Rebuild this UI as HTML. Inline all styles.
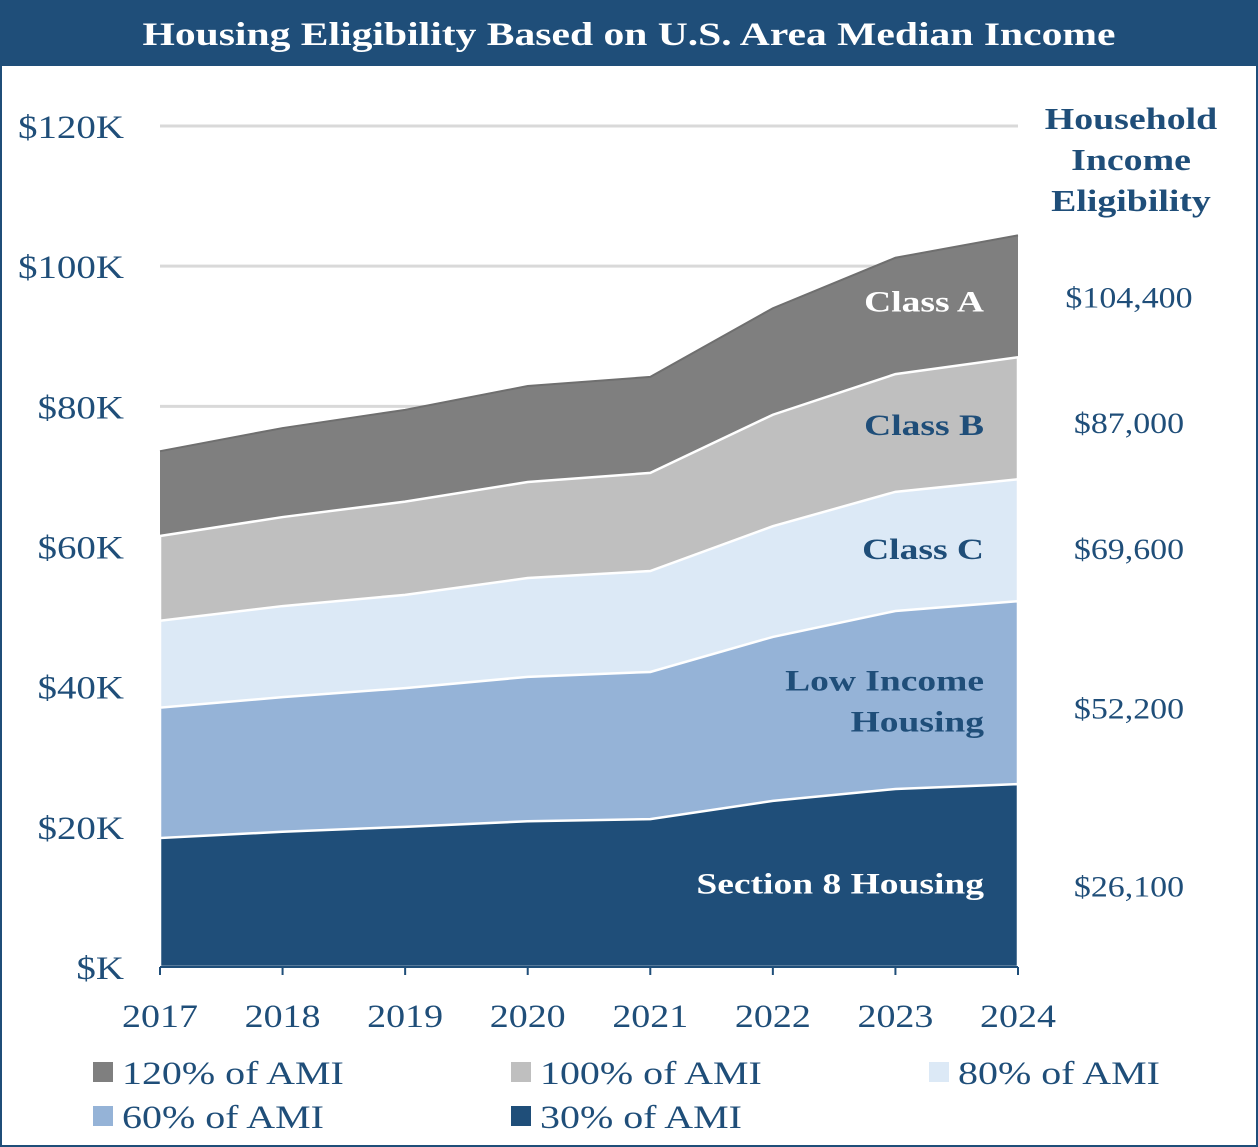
<!DOCTYPE html>
<html><head><meta charset="utf-8"><style>
html,body{margin:0;padding:0;background:#fff}
svg{display:block}
text{font-family:"Liberation Serif",serif}
</style></head><body>
<svg id="chart" width="1258" height="1147" viewBox="0 0 1258 1147" xmlns="http://www.w3.org/2000/svg">
<rect x="1" y="1" width="1256" height="1145" fill="#fff" stroke="#1f4e79" stroke-width="2"/>
<rect x="0" y="0" width="1258" height="66" fill="#1f4e79"/>
<text id="title" class="st" data-k="1.26" x="629" y="45" text-anchor="middle" font-size="33" font-weight="bold" fill="#fff">Housing Eligibility Based on U.S. Area Median Income</text>
<g id="grid"></g>
<g id="areas"></g>
<g id="axes"></g>
<g id="labels"></g>
<text font-size="31" font-weight="bold" fill="#1f4e79" text-anchor="middle"><tspan class="st" data-k="1.22" x="1131" y="129">Household</tspan><tspan class="st" data-k="1.22" x="1131" y="170">Income</tspan><tspan class="st" data-k="1.22" x="1131" y="211">Eligibility</tspan></text>
<g id="legend"></g>
</svg>
<script>
const years = ["2017","2018","2019","2020","2021","2022","2023","2024"];
const ami120 = [73.6,76.9,79.5,82.9,84.2,94.0,101.2,104.4];
const ami100 = [61.5,64.2,66.4,69.2,70.5,78.8,84.6,87.0];
const ami80 = [49.4,51.5,53.1,55.5,56.5,62.9,67.8,69.6];
const ami60 = [37.0,38.5,39.8,41.4,42.1,47.1,50.8,52.2];
const ami30 = [18.4,19.3,20.0,20.8,21.1,23.7,25.4,26.1];
const yTicks = [0,20,40,60,80,100,120];
const eligibility = ["$104,400","$87,000","$69,600","$52,200","$26,100"];
const classLabels = ["Class A","Class B","Class C","Low Income|Housing","Section 8 Housing"];
const legendNames = ["120% of AMI","100% of AMI","80% of AMI","60% of AMI","30% of AMI"];

const NS="http://www.w3.org/2000/svg";
const x0=160,x1=1018,yBase=967,yTop=126;
const xs=i=>x0+(x1-x0)*i/(years.length-1);
const ys=v=>yBase-(yBase-yTop)*v/120;
function mk(tag,attrs,parent){const e=document.createElementNS(NS,tag);for(const k in attrs)e.setAttribute(k,attrs[k]);parent.appendChild(e);return e;}

const grid=document.getElementById('grid');
yTicks.forEach(t=>{
  if(t>0){const l=mk('line',{x1:x0,x2:1018,y1:ys(t),y2:ys(t),stroke:'#d9d9d9','stroke-width':3},grid);
  
  }
  const tx=mk('text',{x:124,y:ys(t)+12,'text-anchor':'end','font-size':33,fill:'#1f4e79',class:'st','data-k':1.18},grid);
  tx.textContent='$'+(t===0?'':t)+'K';
  
  
});

const series=[ami120,ami100,ami80,ami60,ami30];
const colors=['#7f7f7f','#bfbfbf','#dce9f6','#95b3d7','#1f4e79'];
const names=['area-120-ami','area-100-ami','area-80-ami','area-60-ami','area-30-ami'];
const areas=document.getElementById('areas');
series.forEach((s,k)=>{
  let d='M'+x0+','+yBase;
  s.forEach((v,i)=>{d+=' L'+xs(i)+','+ys(v);});
  d+=' L'+x1+','+yBase+' Z';
  const p=mk('path',{d:d,fill:colors[k],stroke:k===0?'none':'#fff','stroke-width':2.5},areas);
  
  
});
let dTop='';ami120.forEach((v,i)=>{dTop+=(i?' L':'M')+xs(i)+','+ys(v);});
const te=mk('path',{d:dTop,fill:'none',stroke:'#6f6f6f','stroke-width':2},areas);



const axes=document.getElementById('axes');
const xa=mk('line',{x1:x0,x2:x1,y1:yBase,y2:yBase,stroke:'#1f4e79','stroke-width':2},axes);


years.forEach((y,i)=>{
  const t=mk('line',{x1:xs(i),x2:xs(i),y1:yBase,y2:yBase+8,stroke:'#1f4e79','stroke-width':2},axes);
  
  
  const tx=mk('text',{x:xs(i),y:1027,'text-anchor':'middle','font-size':33,fill:'#1f4e79',class:'st','data-k':1.15},axes);
  tx.textContent=y;
  
  
});

const labels=document.getElementById('labels');
const last=years.length-1;
const bands=[[ami120,ami100],[ami100,ami80],[ami80,ami60],[ami60,ami30],[ami30,[0]]];
const labelColors=['#fff','#1f4e79','#1f4e79','#1f4e79','#fff'];
const labelShift=[5,7,9,8,8];
const eligShift=[1,5,9,16,3];
bands.forEach((b,k)=>{
  const lo=b[1].length>1?b[1][last]:0;
  const mid=(b[0][last]+lo)/2;
  const lines=classLabels[k].split('|');
  const cy=ys(mid)+10-(lines.length-1)*20+labelShift[k];
  lines.forEach((ln,j)=>{
    const tx=mk('text',{x:984,y:cy+j*41,'text-anchor':'end','font-size':30,'font-weight':'bold',fill:labelColors[k],class:'st','data-k':1.25},labels);
    tx.textContent=ln;
    
    
  });
  const ey=(k===4?ys(mid)+18:ys(mid)+10)+eligShift[k];
  const e=mk('text',{x:1129,y:ey,'text-anchor':'middle','font-size':30,fill:'#1f4e79',class:'st','data-k':1.13},labels);
  e.textContent=eligibility[k];
  
  
});

const legend=document.getElementById('legend');
const lpos=[[93,1062],[511,1062],[929,1062],[93,1106],[511,1106]];
legendNames.forEach((n,k)=>{
  const g=mk('g',{},legend);
  
  
  mk('rect',{x:lpos[k][0],y:lpos[k][1],width:20,height:20,fill:colors[k]},g);
  const tx=mk('text',{x:lpos[k][0]+29,y:lpos[k][1]+22,'font-size':33,fill:'#1f4e79',class:'st','data-k':1.21},g);
  tx.textContent=n;
});

document.querySelectorAll('.st').forEach(el=>{
  const w=el.getComputedTextLength();
  const k=parseFloat(el.getAttribute('data-k'));
  if(w>0){el.setAttribute('textLength',(w*k).toFixed(1));el.setAttribute('lengthAdjust','spacingAndGlyphs');}
});
</script>
</body></html>
